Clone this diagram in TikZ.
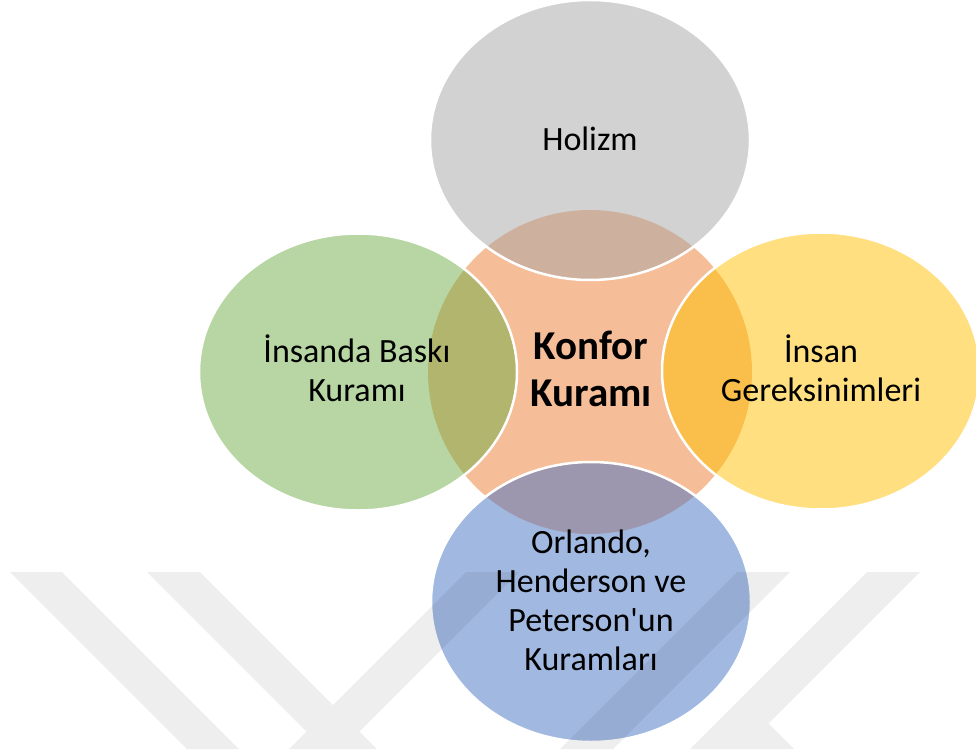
\documentclass[tikz,border=0pt]{standalone}
\usepackage{fontspec}
\setmainfont{Carlito}
\usetikzlibrary{shapes.geometric}
\definecolor{cgray}{HTML}{A5A5A5}
\definecolor{cgreen}{HTML}{70AD47}
\definecolor{cyellow}{HTML}{FFC000}
\definecolor{cblue}{HTML}{4472C4}
\definecolor{corange}{HTML}{ED7D31}
\begin{document}
\begin{tikzpicture}[x=1pt,y=-1pt,
  bubble/.style={ellipse, draw=white, line width=2.5pt, fill opacity=0.5, draw opacity=1, inner sep=0pt, minimum width=320pt, minimum height=280pt},
  sidebubble/.style={bubble, minimum width=318pt, minimum height=277pt},
  lbl/.style={align=center, text=black, font=\fontsize{34}{39}\selectfont, inner sep=0pt},
  hub/.style={circle, fill=corange, fill opacity=0.5, inner sep=0pt, minimum size=324pt},
  hublbl/.style={align=center, text=black, font=\bfseries\fontsize{41}{47}\selectfont, inner sep=0pt},
  watermark/.style={fill=black, fill opacity=0.067}]
\useasboundingbox (0,0) rectangle (976,749);
% central circle
\node[hub] (hub) at (590,372) {};
% surrounding ellipses
\node[bubble, fill=cgray] (topb) at (590,140) {};
\node[sidebubble, fill=cgreen] (leftb) at (358,372) {};
\node[sidebubble, fill=cyellow] (rightb) at (821,371) {};
\node[bubble, fill=cblue] (botb) at (591,602) {};
% texts
\node[lbl] (toptext) at (590,139) {Holizm};
\node[lbl] (lefttext) at (357,368) {İnsanda Baskı\\Kuramı};
\node[lbl] (righttext) at (821,368) {İnsan\\Gereksinimleri};
\node[lbl] (bottext) at (591,600) {Orlando,\\Henderson ve\\Peterson\textquotesingle un\\Kuramları};
\node[hublbl] (hubtext) at (591,369) {Konfor\\Kuramı};
% faint watermark
\fill[watermark]
  (10,572) -- (62,572) -- (239,749) -- (187,749) -- cycle
  (147,572) -- (200,572) -- (377,749) -- (324,749) -- cycle
  (466,572) -- (519,572) -- (342,749) -- (289,749) -- cycle
  (737,572) -- (790,572) -- (613,749) -- (560,749) -- cycle
  (867,572) -- (920,572) -- (743,749) -- (690,749) -- cycle
  (768.5,723.5) -- (794,749) -- (743,749) -- cycle;
\end{tikzpicture}
\end{document}
